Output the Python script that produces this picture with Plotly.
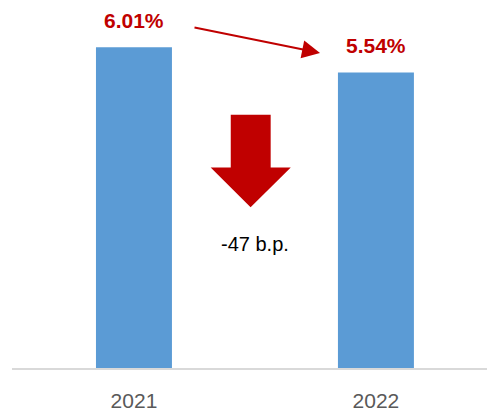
import plotly.graph_objects as go

# Average rate by year
years = ["2021", "2022"]
rates = [6.01, 5.54]
change_label = "-47 b.p."

bar_color = "#5B9BD5"
accent = "#C00000"
font_family = "Liberation Sans, Arial, sans-serif"

x_pos = list(range(len(years)))

fig = go.Figure(
    go.Bar(
        x=x_pos,
        y=rates,
        width=0.314,
        marker=dict(color=bar_color, line=dict(width=0)),
        hoverinfo="skip",
    )
)

# Value labels above each bar
for xi, v in zip(x_pos, rates):
    fig.add_annotation(
        x=xi, y=v, text=f"<b>{v:.2f}%</b>", showarrow=False,
        yanchor="bottom", yshift=13,
        font=dict(family=font_family, size=21, color=accent),
    )

# Trend arrow between the two labels
fig.add_annotation(
    x=0.769, y=5.904, ax=0.244, ay=6.389,
    xref="x", yref="y", axref="x", ayref="y",
    text="", showarrow=True, arrowhead=2, arrowsize=1.8, arrowwidth=2,
    arrowcolor=accent, standoff=0, startstandoff=0,
)

# Big block arrow pointing down
sx0, sx1 = 0.400, 0.565
hx0, hx1, tx = 0.317, 0.648, 0.482
ytop, yneck, ytip = 4.748, 3.760, 3.015
path = (f"M {sx0} {ytop} L {sx1} {ytop} L {sx1} {yneck} L {hx1} {yneck} "
        f"L {tx} {ytip} L {hx0} {yneck} L {sx0} {yneck} Z")
fig.add_shape(type="path", path=path, xref="x", yref="y",
              fillcolor=accent, line=dict(width=0))

fig.add_annotation(
    x=0.5, y=2.32, text=change_label, showarrow=False,
    font=dict(family=font_family, size=20, color="#000000"),
)

fig.update_layout(
    width=487, height=412,
    margin=dict(l=12, r=0, t=0, b=42),
    paper_bgcolor="white", plot_bgcolor="white",
    showlegend=False,
    xaxis=dict(
        range=[-0.504, 1.459], tickmode="array", tickvals=x_pos, ticktext=years,
        showline=True, linecolor="#D9D9D9", linewidth=1.5, showgrid=False,
        zeroline=False, ticks="", ticklabelstandoff=13,
        tickfont=dict(family=font_family, size=21, color="#595959"),
    ),
    yaxis=dict(range=[0, 6.898], visible=False, showgrid=False, zeroline=False),
)

fig.write_html("out.html")
